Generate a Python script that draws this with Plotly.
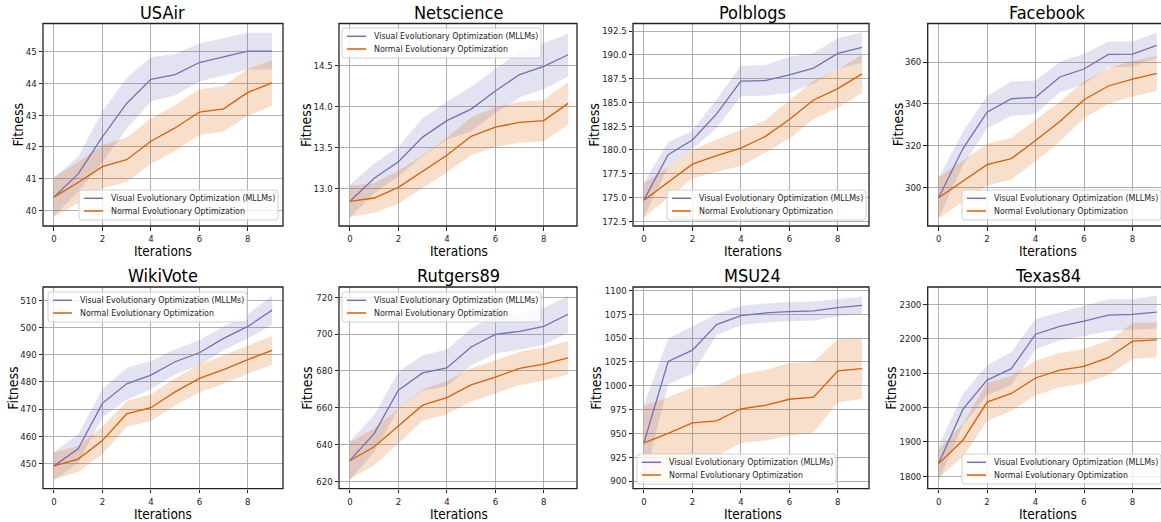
import plotly.graph_objects as go

W, H = 1161, 522

iterations = list(range(10))
titles = ["USAir", "Netscience", "Polblogs", "Facebook",
          "WikiVote", "Rutgers89", "MSU24", "Texas84"]
series_names = ["Visual Evolutionary Optimization (MLLMs)", "Normal Evolutionary Optimization"]

# mean and std (band half-width)
usair_visual = [40.42, 41.15, 42.32, 43.37, 44.13, 44.28, 44.66, 44.84, 45.02, 45.02]
usair_visual_std = [0.6, 0.55, 0.8, 0.8, 0.7, 0.65, 0.6, 0.6, 0.58, 0.58]
usair_normal = [40.42, 40.88, 41.38, 41.6, 42.18, 42.6, 43.1, 43.2, 43.72, 44.02]
usair_normal_std = [0.63, 0.65, 0.68, 0.7, 0.72, 0.72, 0.72, 0.72, 0.74, 0.72]

net_visual = [12.85, 13.13, 13.33, 13.63, 13.83, 13.97, 14.19, 14.39, 14.49, 14.63]
net_visual_std = [0.2, 0.18, 0.18, 0.23, 0.23, 0.27, 0.27, 0.28, 0.28, 0.26]
net_normal = [12.85, 12.89, 13.02, 13.21, 13.41, 13.64, 13.75, 13.81, 13.83, 14.04]
net_normal_std = [0.19, 0.18, 0.2, 0.2, 0.21, 0.23, 0.24, 0.25, 0.25, 0.26]

pol_visual = [174.75, 179.5, 181.05, 183.8, 187.25, 187.3, 187.9, 188.6, 190.15, 190.78]
pol_visual_std = [1.8, 1.3, 1.0, 1.5, 1.6, 1.6, 1.9, 1.6, 1.6, 1.6]
pol_normal = [174.7, 176.6, 178.5, 179.4, 180.2, 181.4, 183.2, 185.25, 186.45, 188.0]
pol_normal_std = [1.8, 1.6, 1.5, 1.7, 1.9, 1.7, 2.0, 2.0, 2.0, 2.0]

fb_visual = [295.2, 318.6, 336.1, 342.5, 343.2, 352.9, 356.7, 363.7, 363.8, 368.0]
fb_visual_std = [9.5, 8.0, 7.7, 8.2, 8.0, 7.3, 7.3, 6.1, 6.0, 6.0]
fb_normal = [295.2, 303.2, 311.0, 313.9, 322.5, 331.6, 342.0, 348.6, 351.9, 354.6]
fb_normal_std = [9.8, 10.0, 10.0, 10.0, 10.0, 9.5, 8.8, 8.5, 8.5, 8.3]

wiki_visual = [449.1, 455.4, 472.1, 479.3, 482.5, 487.4, 490.7, 496.0, 500.4, 506.4]
wiki_visual_std = [5.2, 5.3, 5.1, 5.9, 5.2, 4.6, 4.6, 4.4, 4.4, 5.4]
wiki_normal = [449.1, 451.6, 458.4, 468.2, 470.5, 476.3, 481.3, 484.5, 488.2, 491.6]
wiki_normal_std = [5.0, 4.8, 5.0, 4.8, 4.9, 5.0, 5.1, 5.2, 5.2, 5.3]

rut_visual = [631.4, 645.9, 669.5, 678.9, 681.6, 693.0, 699.9, 701.5, 704.2, 710.8]
rut_visual_std = [10.5, 10.0, 10.0, 9.6, 10.0, 10.0, 10.5, 10.0, 10.0, 10.0]
rut_normal = [631.2, 638.8, 650.1, 661.4, 665.5, 672.4, 676.6, 681.4, 683.7, 687.1]
rut_normal_std = [10.0, 10.0, 9.5, 8.5, 9.0, 9.0, 9.0, 9.0, 9.0, 9.0]

msu_visual = [940.1, 1025.4, 1037.3, 1064.1, 1073.5, 1076.3, 1077.7, 1078.4, 1081.9, 1084.3]
msu_visual_std = [40.0, 24.0, 25.0, 11.0, 10.0, 10.0, 10.0, 10.0, 9.0, 9.0]
msu_normal = [940.0, 950.0, 961.0, 963.2, 975.8, 979.4, 985.8, 988.0, 1015.6, 1018.0]
msu_normal_std = [39.0, 38.0, 37.0, 37.0, 36.0, 37.0, 38.0, 37.0, 33.0, 32.0]

tex_visual = [1837, 1994.6, 2080, 2113, 2213.4, 2235.8, 2251.4, 2268.9, 2270.8, 2277.6]
tex_visual_std = [51, 45, 44, 48, 44, 41, 44, 46, 44, 48]
tex_normal = [1837, 1905, 2016, 2041, 2086, 2109, 2120, 2145, 2193, 2197]
tex_normal_std = [41, 48, 56, 50, 50, 50, 50, 50, 52, 51]

visual_means = [usair_visual, net_visual, pol_visual, fb_visual, wiki_visual, rut_visual, msu_visual, tex_visual]
visual_stds = [usair_visual_std, net_visual_std, pol_visual_std, fb_visual_std, wiki_visual_std, rut_visual_std, msu_visual_std, tex_visual_std]
normal_means = [usair_normal, net_normal, pol_normal, fb_normal, wiki_normal, rut_normal, msu_normal, tex_normal]
normal_stds = [usair_normal_std, net_normal_std, pol_normal_std, fb_normal_std, wiki_normal_std, rut_normal_std, msu_normal_std, tex_normal_std]

x_ticks = [0, 2, 4, 6, 8]
y_ticks = [
    [40, 41, 42, 43, 44, 45],
    [13.0, 13.5, 14.0, 14.5],
    [172.5, 175.0, 177.5, 180.0, 182.5, 185.0, 187.5, 190.0, 192.5],
    [300, 320, 340, 360],
    [450, 460, 470, 480, 490, 500, 510],
    [620, 640, 660, 680, 700, 720],
    [900, 925, 950, 975, 1000, 1025, 1050, 1075, 1100],
    [1800, 1900, 2000, 2100, 2200, 2300],
]
y_formats = ["d", ".1f", ".1f", "d", "d", "d", "d", "d"]
y_ranges = [
    [39.51, 45.89], [12.55, 15.01], [172.0, 193.3], [281.7, 378.45],
    [440.7, 514.9], [616.0, 725.6], [892, 1103.5], [1764, 2350.6],
]

# ---- layout (pixels) ----
col_px = [(43, 283), (339, 577), (633, 869), (927.7, 1161)]
row_px = [(23.5, 226), (287, 488.7)]
px_per_unit = 24.24
fitness_x = [[17.7, 305.3, 594, 897.5], [13, 307, 596, 891]]
legend_pos = [(79, 190), (342, 28), (667, 190), (962, 190),
              (48, 292), (342, 292), (637, 454), (962, 454)]

C_VIS = "#7570b3"
C_NOR = "#d95f02"
F_VIS = "rgba(117,112,179,0.2)"
F_NOR = "rgba(217,95,2,0.2)"
FONT = "DejaVu Sans Condensed, Liberation Sans Narrow, DejaVu Sans"


def px(x):
    return x / W


def py(y):
    return 1 - y / H


fig = go.Figure()
layout = dict(
    width=W, height=H,
    margin=dict(l=0, r=0, t=0, b=0, autoexpand=False),
    paper_bgcolor="white", plot_bgcolor="white",
    font=dict(family=FONT, color="#222"),
    showlegend=False,
)
annotations = []
shapes = []

for i in range(8):
    r, c = divmod(i, 4)
    k = "" if i == 0 else str(i + 1)
    xa, ya = "x" + k, "y" + k
    x0p, x1p = col_px[c]
    y0p, y1p = row_px[r]

    for mean, std, fillc in ((visual_means[i], visual_stds[i], F_VIS),
                             (normal_means[i], normal_stds[i], F_NOR)):
        up = [m + s for m, s in zip(mean, std)]
        lo = [m - s for m, s in zip(mean, std)]
        fig.add_trace(go.Scatter(x=iterations, y=up, mode="lines", line=dict(width=0),
                                 hoverinfo="skip", xaxis=xa, yaxis=ya))
        fig.add_trace(go.Scatter(x=iterations, y=lo, mode="lines", line=dict(width=0),
                                 fill="tonexty", fillcolor=fillc,
                                 hoverinfo="skip", xaxis=xa, yaxis=ya))
    for mean, name, col in ((visual_means[i], series_names[0], C_VIS),
                            (normal_means[i], series_names[1], C_NOR)):
        fig.add_trace(go.Scatter(x=iterations, y=mean, mode="lines", name=name,
                                 line=dict(color=col, width=1.3), xaxis=xa, yaxis=ya))

    xmax = -0.45 + (x1p - x0p) / px_per_unit
    layout["xaxis" + k] = dict(
        domain=[px(x0p), px(x1p)], range=[-0.45, xmax], anchor=ya,
        tickmode="array", tickvals=x_ticks, ticks="outside", ticklen=3.5, tickwidth=1,
        tickcolor="#222", tickfont=dict(size=9.5, family=FONT, color="#222"),
        showgrid=True, gridcolor="#b0b0b0", gridwidth=1.1, zeroline=False, showline=False,
    )
    layout["yaxis" + k] = dict(
        domain=[py(y1p), py(y0p)], range=y_ranges[i], anchor=xa,
        tickmode="array", tickvals=y_ticks[i], tickformat=y_formats[i],
        ticks="outside", ticklen=3.5, tickwidth=1, tickcolor="#222",
        tickfont=dict(size=9.5, family=FONT, color="#222"),
        showgrid=True, gridcolor="#b0b0b0", gridwidth=1.1, zeroline=False, showline=False,
    )
    shapes.append(dict(type="rect", xref=xa + " domain", yref=ya + " domain",
                       x0=0, x1=1 if c < 3 else 1.1, y0=0, y1=1,
                       line=dict(color="#222", width=1.3), fillcolor="rgba(0,0,0,0)", layer="above"))

    full_right = x0p + 9.9 * px_per_unit
    cx = (x0p + full_right) / 2
    title_y = 13 if r == 0 else 275.5
    annotations.append(dict(text=titles[i], x=px(cx), y=py(title_y), xref="paper", yref="paper",
                            xanchor="center", yanchor="middle", showarrow=False,
                            font=dict(size=18, family=FONT, color="black")))
    it_y = 251 if r == 0 else 513.5
    annotations.append(dict(text="Iterations", x=px(cx), y=py(it_y), xref="paper", yref="paper",
                            xanchor="center", yanchor="middle", showarrow=False,
                            font=dict(size=13.5, family=FONT, color="black")))
    annotations.append(dict(text="Fitness", x=px(fitness_x[r][c]), y=py((y0p + y1p) / 2),
                            xref="paper", yref="paper", xanchor="center", yanchor="middle",
                            textangle=-90, showarrow=False,
                            font=dict(size=14, family=FONT, color="black")))

    # legend (matplotlib-style box)
    lx, ly = legend_pos[i]
    bw, bh, rad = 199, 30, 3
    x0b, x1b, y0b, y1b = lx, lx + bw, ly, ly + bh
    path = (f"M {px(x0b + rad)},{py(y0b)} L {px(x1b - rad)},{py(y0b)} "
            f"Q {px(x1b)},{py(y0b)} {px(x1b)},{py(y0b + rad)} "
            f"L {px(x1b)},{py(y1b - rad)} Q {px(x1b)},{py(y1b)} {px(x1b - rad)},{py(y1b)} "
            f"L {px(x0b + rad)},{py(y1b)} Q {px(x0b)},{py(y1b)} {px(x0b)},{py(y1b - rad)} "
            f"L {px(x0b)},{py(y0b + rad)} Q {px(x0b)},{py(y0b)} {px(x0b + rad)},{py(y0b)} Z")
    shapes.append(dict(type="path", path=path, xref="paper", yref="paper",
                       fillcolor="rgba(255,255,255,0.8)", line=dict(color="#d0d0d0", width=1),
                       layer="above"))
    for j, (name, col) in enumerate(((series_names[0], C_VIS), (series_names[1], C_NOR))):
        ry = ly + 8.3 + j * 12.7
        shapes.append(dict(type="line", xref="paper", yref="paper",
                           x0=px(lx + 5), x1=px(lx + 24), y0=py(ry), y1=py(ry),
                           line=dict(color=col, width=1.5), layer="above"))
        annotations.append(dict(text=name, x=px(lx + 29.5), y=py(ry), xref="paper", yref="paper",
                                xanchor="left", yanchor="middle", showarrow=False,
                                font=dict(size=8.8, family=FONT, color="#222")))

layout["annotations"] = annotations
layout["shapes"] = shapes
fig.update_layout(**layout)
fig.write_html("out.html", config={"displayModeBar": False},
               post_script="document.body.style.margin='0px';")
